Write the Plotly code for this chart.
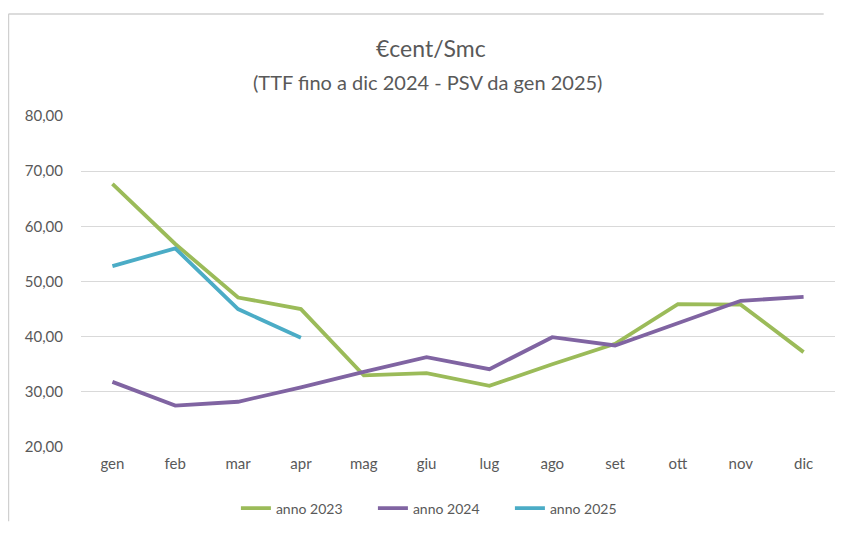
import plotly.graph_objects as go

months = ["gen", "feb", "mar", "apr", "mag", "giu", "lug", "ago", "set", "ott", "nov", "dic"]
anno_2023 = [67.7, 56.8, 47.1, 45.0, 33.0, 33.4, 31.1, 35.0, 38.7, 45.9, 45.8, 37.2]
anno_2024 = [31.8, 27.5, 28.2, 30.8, 33.6, 36.3, 34.1, 39.9, 38.4, 42.5, 46.5, 47.2]
anno_2025 = [52.8, 56.0, 45.0, 39.8]

series = [
    ("anno 2023", anno_2023, "#9BBB59"),
    ("anno 2024", anno_2024, "#8064A2"),
    ("anno 2025", anno_2025, "#4BACC6"),
]

fig = go.Figure()
for name, vals, color in series:
    fig.add_trace(go.Scatter(
        x=months[:len(vals)], y=vals, name=name, mode="lines",
        line=dict(color=color, width=3.8),
    ))

font_family = "Lato, 'Open Sans', sans-serif"
fig.update_layout(
    width=827, height=517,
    margin=dict(l=73, r=0, t=108, b=75),
    paper_bgcolor="white", plot_bgcolor="white",
    separators=",.",
    font=dict(family=font_family, color="#595959", size=15),
    showlegend=True,
    legend=dict(orientation="h", x=0.478, y=-0.1856, xanchor="center", yanchor="middle",
                font=dict(size=14, color="#595959"), itemwidth=30, tracegroupgap=0,
                entrywidth=92, entrywidthmode="pixels"),
    xaxis=dict(type="category", categoryorder="array", categoryarray=months,
               range=[-0.5, 11.5], showgrid=False, showline=False, ticks="",
               ticklabelstandoff=6, tickfont=dict(size=15, color="#595959")),
    yaxis=dict(range=[20, 80], dtick=10, tickformat=".2f", showgrid=True,
               gridcolor="#D9D9D9", gridwidth=1, zeroline=False, showline=False,
               ticks="", ticklabelstandoff=17, tickfont=dict(size=15, color="#595959")),
    annotations=[
        dict(text="€cent/Smc", xref="paper", yref="paper", x=0.4637, y=1.2066,
             xanchor="center", yanchor="middle", showarrow=False,
             font=dict(size=23, color="#595959", family=font_family)),
        dict(text="(TTF fino a dic 2024 - PSV da gen 2025)", xref="paper", yref="paper",
             x=0.459, y=1.1018, xanchor="center", yanchor="middle", showarrow=False,
             font=dict(size=20, color="#595959", family=font_family)),
    ],
    shapes=[
        dict(type="line", xref="paper", yref="paper", x0=-0.0962, x1=0.985, y0=1.308, y1=1.308,
             line=dict(color="#D0D0D0", width=1.5)),
        dict(type="line", xref="paper", yref="paper", x0=-0.0962, x1=-0.0962, y0=1.308, y1=-0.2246,
             line=dict(color="#D0D0D0", width=1.5)),
    ],
)

fig.write_html("out.html")
